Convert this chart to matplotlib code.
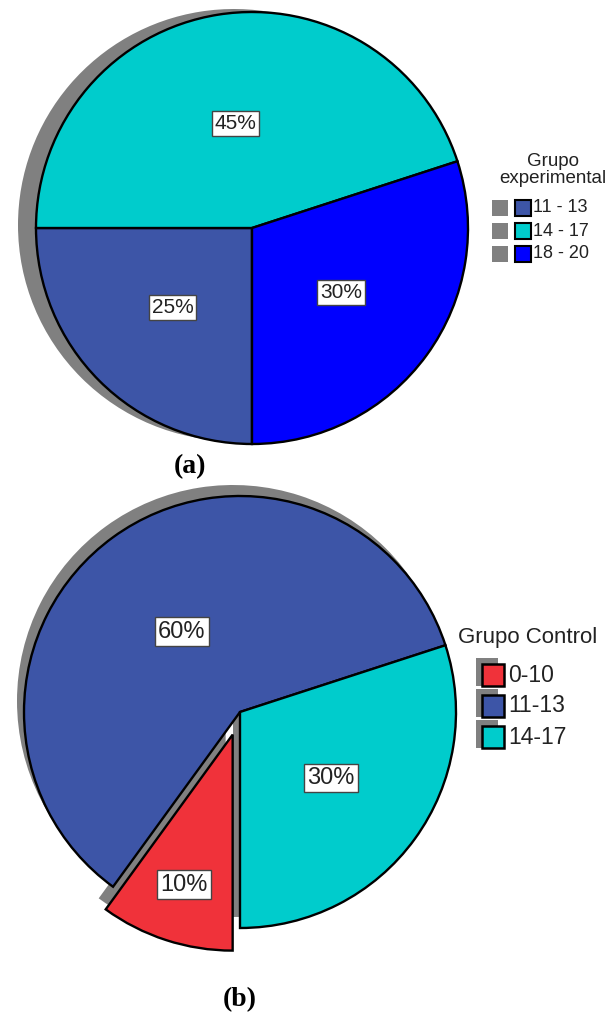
import matplotlib.pyplot as plt
from matplotlib.patches import Rectangle
import numpy as np

plt.rcParams['font.family'] = ['Liberation Sans', 'DejaVu Sans']

# (a) grupo experimental
top_labels = ['11 - 13', '14 - 17', '18 - 20']
top_values = [25, 45, 30]
top_colors = ['#3d55a7', '#00cccc', '#0000ff']

# (b) grupo control
bot_labels = ['0-10', '11-13', '14-17']
bot_values = [10, 60, 30]
bot_colors = ['#f0323a', '#3d55a7', '#00cccc']
bot_explode = [0.11, 0, 0]

W, H = 613, 1030
SHADOW = '#808080'

fig = plt.figure(figsize=(W / 100, H / 100), dpi=100)
ax = fig.add_axes([0, 0, 1, 1])


def draw_pie(values, colors, explode, cx, cy, r, shadow_off, label_dist, fs):
    cy = H - cy
    expl = [e * r for e in explode]
    # shadow first, then the coloured pie on top
    ax.pie(values, explode=expl, colors=[SHADOW] * len(values),
           center=(cx + shadow_off[0], cy + shadow_off[1]), radius=r,
           startangle=-90, counterclock=False, wedgeprops=dict(linewidth=0))
    wedges, _ = ax.pie(values, explode=expl, colors=colors, center=(cx, cy),
                       radius=r, startangle=-90, counterclock=False,
                       wedgeprops=dict(edgecolor='black', linewidth=1.7))
    for w, v, d in zip(wedges, values, label_dist):
        ang = np.deg2rad((w.theta1 + w.theta2) / 2)
        x0, y0 = w.center
        ax.text(x0 + d * r * np.cos(ang), y0 + d * r * np.sin(ang), f'{v}%',
                ha='center', va='center', fontsize=fs, color='#222222',
                bbox=dict(boxstyle='square,pad=0.14', fc='white', ec='#444444', lw=1))


draw_pie(top_values, top_colors, [0, 0, 0], 252, 228, 216, (-18, 3), [0.52, 0.49, 0.51], 15)
draw_pie(bot_values, bot_colors, bot_explode, 240, 712, 216, (-7, 11), [0.73, 0.46, 0.52], 17)

# legend (a)
ax.text(553, H - 170, 'Grupo\nexperimental', ha='center', va='center',
        fontsize=13.5, color='#222222', linespacing=1.0)
for i, (lab, col) in enumerate(zip(top_labels, top_colors)):
    y = H - (208 + 23 * i)
    ax.add_patch(Rectangle((492, y - 8), 16, 16, fc=SHADOW, ec='none'))
    ax.add_patch(Rectangle((515, y - 8), 16, 16, fc=col, ec='black', lw=1.5))
    ax.text(533, y, lab, ha='left', va='center', fontsize=13, color='#222222')

# legend (b)
ax.text(458, H - 637, 'Grupo Control', ha='left', va='center',
        fontsize=16, color='#222222')
for i, (lab, col) in enumerate(zip(bot_labels, bot_colors)):
    y = H - (675 + 31 * i)
    ax.add_patch(Rectangle((476, y - 11), 22, 28, fc=SHADOW, ec='none'))
for i, (lab, col) in enumerate(zip(bot_labels, bot_colors)):
    y = H - (675 + 31 * i)
    ax.add_patch(Rectangle((482, y - 11), 22, 22, fc=col, ec='black', lw=1.8))
    ax.text(508, y, lab, ha='left', va='center', fontsize=16.5, color='#222222')

ax.text(190, H - 467, '(a)', ha='center', va='center', fontsize=20,
        fontweight='bold', family=['Liberation Serif', 'DejaVu Serif'])
ax.text(240, H - 1000, '(b)', ha='center', va='center', fontsize=20,
        fontweight='bold', family=['Liberation Serif', 'DejaVu Serif'])

ax.set_xlim(0, W)
ax.set_ylim(0, H)
ax.set_aspect('auto')
ax.axis('off')

fig.savefig('out.png', dpi=100, facecolor='white')
